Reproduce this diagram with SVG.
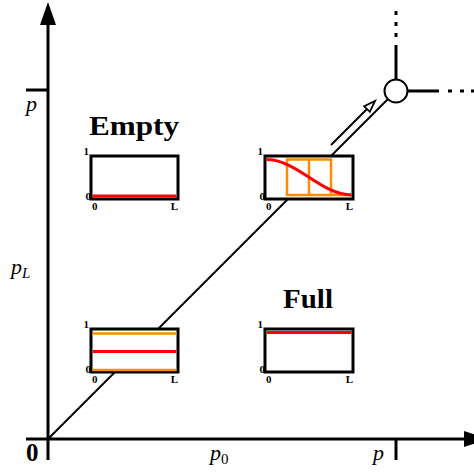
<svg xmlns="http://www.w3.org/2000/svg" width="474" height="472" viewBox="0 0 474 472">
<style>
.ax{stroke:#000;stroke-width:3;fill:none}
.box{fill:#fff;stroke:#000;stroke-width:3}
.red{stroke:#f00;stroke-width:3;fill:none}
.org{stroke:#ff8c00;stroke-width:2.5;fill:none}
.sm{font-family:"Liberation Serif",serif;font-weight:bold;font-size:11px;fill:#000}
.it{font-family:"Liberation Serif",serif;font-style:italic;font-size:22px;fill:#000}
.tt{font-family:"Liberation Serif",serif;font-weight:bold;font-size:28px;fill:#000}
</style>
<g id="axes">
<line class="ax" x1="48" y1="22" x2="48" y2="460"/>
<polygon points="48,2 56,25 40,25" fill="#000"/>
<line class="ax" x1="26" y1="439" x2="466" y2="439"/>
<polygon points="488,439 464,447 464,431" fill="#000"/>
<line class="ax" x1="26" y1="90" x2="48" y2="90"/>
<line class="ax" x1="396" y1="439" x2="396" y2="460"/>
<text x="26" y="461" font-family="Liberation Serif,serif" font-weight="bold" font-size="25">0</text>
<text class="it" x="26" y="111">p</text>
<text class="it" x="11" y="274">p<tspan font-size="15" font-style="italic" dy="4">L</tspan></text>
<text class="it" x="210" y="460">p<tspan font-size="15" font-style="normal" dy="4">0</tspan></text>
<text class="it" x="373" y="460">p</text>
</g>
<g id="connectors">
<line x1="48" y1="439" x2="396" y2="91" stroke="#000" stroke-width="2"/>
<line x1="331" y1="145" x2="368" y2="108" stroke="#000" stroke-width="2"/>
<polygon points="375,101 369.8,111.8 364.2,106.2" fill="#fff" stroke="#000" stroke-width="1.8"/>
<line class="ax" x1="396" y1="80" x2="396" y2="45"/>
<line class="ax" x1="407" y1="91" x2="439" y2="91"/>
<g fill="#000">
<rect x="394.5" y="11" width="3" height="4"/>
<rect x="394.5" y="22" width="3" height="4"/>
<rect x="394.5" y="33" width="3" height="4"/>
<rect x="448" y="89.5" width="4" height="3"/>
<rect x="460" y="89.5" width="4" height="3"/>
<rect x="471" y="89.5" width="4" height="3"/>
</g>
</g>
<g id="junction">
<circle cx="396" cy="91" r="11.5" fill="#fff" stroke="#000" stroke-width="2"/>
</g>
<g id="empty">
<text class="tt" x="89" y="135" textLength="90" lengthAdjust="spacingAndGlyphs">Empty</text>
<rect class="box" x="91" y="156" width="87" height="43"/>
<line class="red" x1="92.5" y1="196" x2="176.5" y2="196"/>
<text class="sm" x="89" y="155" text-anchor="end">1</text>
<text class="sm" x="91" y="200" text-anchor="end">0</text>
<text class="sm" x="92" y="210">0</text>
<text class="sm" x="178" y="210" text-anchor="end">L</text>
</g>
<g id="mixed">
<rect class="box" x="265" y="156" width="88" height="43"/>
<rect class="org" x="287" y="159.5" width="44" height="35.5"/>
<line class="org" x1="309" y1="159.5" x2="309" y2="195"/>
<line class="org" x1="331" y1="195" x2="351.5" y2="195"/>
<path class="red" d="M266.5,159.5 C297,159.5 321,195 351.5,195"/>
<text class="sm" x="263" y="155" text-anchor="end">1</text>
<text class="sm" x="265" y="200" text-anchor="end">0</text>
<text class="sm" x="266" y="210">0</text>
<text class="sm" x="353" y="210" text-anchor="end">L</text>
</g>
<g id="uniform">
<rect class="box" x="91" y="329" width="87" height="43"/>
<line class="org" x1="92.5" y1="333.5" x2="176.5" y2="333.5"/>
<line class="org" x1="92.5" y1="370" x2="176.5" y2="370"/>
<line class="red" x1="92.5" y1="351.5" x2="176.5" y2="351.5"/>
<text class="sm" x="89" y="328" text-anchor="end">1</text>
<text class="sm" x="91" y="373" text-anchor="end">0</text>
<text class="sm" x="92" y="383">0</text>
<text class="sm" x="178" y="383" text-anchor="end">L</text>
</g>
<g id="full">
<text class="tt" x="283" y="308" textLength="50" lengthAdjust="spacingAndGlyphs">Full</text>
<rect class="box" x="265" y="329" width="88" height="43"/>
<line class="red" x1="266.5" y1="332.5" x2="351.5" y2="332.5"/>
<text class="sm" x="263" y="328" text-anchor="end">1</text>
<text class="sm" x="265" y="373" text-anchor="end">0</text>
<text class="sm" x="266" y="383">0</text>
<text class="sm" x="353" y="383" text-anchor="end">L</text>
</g>
</svg>
